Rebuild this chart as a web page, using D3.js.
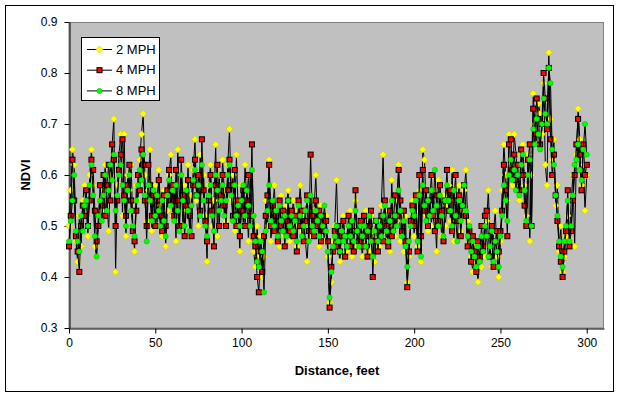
<!DOCTYPE html>
<html>
<head>
<meta charset="utf-8">
<script src="https://cdnjs.cloudflare.com/ajax/libs/d3/7.8.5/d3.min.js"></script>
<style>
  body { margin: 0; background: #fff; }
  text { font-family: "Liberation Sans", Arial, sans-serif; }
  .tick text { font-size: 12px; fill: #000; }
  .tick line, .domain { stroke: #000; }
</style>
</head>
<body>
<div id="chart"></div>
<script>
// one reading per foot, 0 - 300 ft
var ndvi2mph = [
  0.50, 0.57, 0.65, 0.62, 0.47, 0.43, 0.52, 0.46, 0.55, 0.58,
  0.53, 0.48, 0.60, 0.65, 0.58, 0.46, 0.44, 0.50, 0.55, 0.53,
  0.57, 0.62, 0.55, 0.49, 0.60, 0.66, 0.71, 0.41, 0.58, 0.64,
  0.68, 0.52, 0.68, 0.48, 0.60, 0.57, 0.62, 0.50, 0.45, 0.58,
  0.55, 0.63, 0.68, 0.72, 0.60, 0.51, 0.57, 0.65, 0.49, 0.55,
  0.58, 0.50, 0.61, 0.54, 0.48, 0.57, 0.46, 0.53, 0.60, 0.64,
  0.52, 0.57, 0.47, 0.65, 0.55, 0.60, 0.50, 0.58, 0.53, 0.62,
  0.48, 0.56, 0.61, 0.67, 0.55, 0.50, 0.64, 0.57, 0.60, 0.52,
  0.43, 0.58, 0.62, 0.50, 0.55, 0.66, 0.48, 0.60, 0.54, 0.63,
  0.57, 0.51, 0.62, 0.69, 0.55, 0.60, 0.49, 0.64, 0.53, 0.45,
  0.58, 0.50, 0.62, 0.55, 0.47, 0.60, 0.52, 0.45, 0.42, 0.50,
  0.44, 0.48, 0.40, 0.44, 0.55, 0.50, 0.63, 0.47, 0.53, 0.58,
  0.49, 0.53, 0.46, 0.56, 0.51, 0.48, 0.54, 0.57, 0.47, 0.52,
  0.55, 0.50, 0.46, 0.53, 0.58, 0.49, 0.52, 0.47, 0.43, 0.50,
  0.55, 0.48, 0.53, 0.60, 0.51, 0.46, 0.54, 0.50, 0.47, 0.52,
  0.44, 0.35, 0.39, 0.47, 0.50, 0.59, 0.46, 0.43, 0.49, 0.52,
  0.47, 0.45, 0.50, 0.53, 0.44, 0.49, 0.55, 0.46, 0.51, 0.48,
  0.44, 0.50, 0.53, 0.47, 0.45, 0.52, 0.49, 0.43, 0.48, 0.51,
  0.46, 0.54, 0.64, 0.50, 0.47, 0.53, 0.45, 0.59, 0.50, 0.48,
  0.55, 0.62, 0.47, 0.51, 0.45, 0.52, 0.39, 0.44, 0.50, 0.55,
  0.48, 0.53, 0.46, 0.57, 0.43, 0.65, 0.63, 0.52, 0.49, 0.55,
  0.50, 0.57, 0.53, 0.45, 0.59, 0.52, 0.48, 0.56, 0.50, 0.54,
  0.58, 0.51, 0.61, 0.47, 0.55, 0.52, 0.58, 0.49, 0.53, 0.57,
  0.61, 0.51, 0.47, 0.44, 0.41, 0.46, 0.43, 0.39, 0.45, 0.42,
  0.48, 0.44, 0.51, 0.57, 0.46, 0.42, 0.49, 0.53, 0.44, 0.40,
  0.47, 0.57, 0.66, 0.60, 0.55, 0.68, 0.62, 0.58, 0.68, 0.64,
  0.59, 0.55, 0.62, 0.66, 0.58, 0.52, 0.64, 0.47, 0.60, 0.76,
  0.70, 0.66, 0.74, 0.72, 0.68, 0.78, 0.62, 0.58, 0.84, 0.71,
  0.63, 0.67, 0.54, 0.58, 0.45, 0.50, 0.41, 0.44, 0.48, 0.52,
  0.47, 0.55, 0.60, 0.46, 0.64, 0.73, 0.67, 0.58, 0.62, 0.53,
  0.60
];
var ndvi4mph = [
  0.46, 0.52, 0.63, 0.55, 0.48, 0.45, 0.41, 0.50, 0.54, 0.52,
  0.57, 0.50, 0.55, 0.63, 0.61, 0.53, 0.47, 0.50, 0.58, 0.54,
  0.60, 0.52, 0.58, 0.62, 0.55, 0.66, 0.63, 0.50, 0.55, 0.61,
  0.64, 0.67, 0.56, 0.52, 0.58, 0.62, 0.55, 0.49, 0.47, 0.53,
  0.60, 0.57, 0.65, 0.62, 0.55, 0.50, 0.62, 0.58, 0.52, 0.56,
  0.50, 0.55, 0.59, 0.52, 0.49, 0.56, 0.50, 0.57, 0.61, 0.55,
  0.58, 0.52, 0.61, 0.55, 0.50, 0.63, 0.56, 0.48, 0.54, 0.59,
  0.52, 0.48, 0.58, 0.63, 0.56, 0.60, 0.53, 0.67, 0.57, 0.51,
  0.47, 0.55, 0.60, 0.53, 0.46, 0.58, 0.62, 0.50, 0.56, 0.60,
  0.54, 0.50, 0.57, 0.63, 0.58, 0.52, 0.61, 0.50, 0.55, 0.48,
  0.53, 0.57, 0.50, 0.55, 0.60, 0.52, 0.66, 0.48, 0.46, 0.40,
  0.37, 0.45, 0.41, 0.48, 0.52, 0.56, 0.62, 0.50, 0.54, 0.49,
  0.52, 0.47, 0.55, 0.50, 0.53, 0.46, 0.51, 0.55, 0.49, 0.53,
  0.48, 0.52, 0.45, 0.55, 0.50, 0.53, 0.47, 0.51, 0.56, 0.49,
  0.64, 0.52, 0.48, 0.55, 0.50, 0.53, 0.47, 0.52, 0.49, 0.51,
  0.47, 0.34, 0.42, 0.45, 0.49, 0.46, 0.50, 0.45, 0.48, 0.51,
  0.44, 0.48, 0.52, 0.46, 0.50, 0.45, 0.57, 0.49, 0.47, 0.51,
  0.46, 0.52, 0.48, 0.44, 0.50, 0.53, 0.40, 0.47, 0.51, 0.45,
  0.49, 0.52, 0.47, 0.55, 0.50, 0.46, 0.53, 0.48, 0.51, 0.56,
  0.52, 0.61, 0.55, 0.49, 0.53, 0.47, 0.38, 0.45, 0.51, 0.54,
  0.50, 0.56, 0.45, 0.60, 0.48, 0.61, 0.53, 0.57, 0.50, 0.55,
  0.60, 0.52, 0.49, 0.56, 0.51, 0.58, 0.53, 0.47, 0.55, 0.61,
  0.53, 0.57, 0.49, 0.55, 0.60, 0.51, 0.56, 0.48, 0.54, 0.58,
  0.52, 0.46, 0.49, 0.43, 0.48, 0.45, 0.41, 0.47, 0.44, 0.50,
  0.46, 0.52, 0.53, 0.48, 0.44, 0.50, 0.42, 0.47, 0.49, 0.45,
  0.49, 0.53, 0.62, 0.57, 0.48, 0.66, 0.67, 0.61, 0.64, 0.59,
  0.62, 0.57, 0.65, 0.60, 0.54, 0.50, 0.63, 0.66, 0.50, 0.73,
  0.68, 0.75, 0.71, 0.66, 0.70, 0.80, 0.75, 0.69, 0.81, 0.67,
  0.60, 0.64, 0.56, 0.51, 0.46, 0.43, 0.40, 0.45, 0.49, 0.57,
  0.46, 0.49, 0.55, 0.60, 0.66, 0.71, 0.64, 0.57, 0.66, 0.60,
  0.62
];
var ndvi8mph = [
  0.47, 0.51, 0.55, 0.60, 0.49, 0.47, 0.45, 0.52, 0.49, 0.54,
  0.55, 0.50, 0.58, 0.62, 0.56, 0.48, 0.44, 0.52, 0.55, 0.51,
  0.56, 0.60, 0.53, 0.57, 0.62, 0.59, 0.64, 0.53, 0.56, 0.60,
  0.62, 0.58, 0.55, 0.50, 0.57, 0.60, 0.53, 0.50, 0.48, 0.55,
  0.58, 0.61, 0.59, 0.64, 0.56, 0.47, 0.58, 0.55, 0.51, 0.57,
  0.52, 0.56, 0.53, 0.50, 0.55, 0.51, 0.48, 0.56, 0.59, 0.54,
  0.57, 0.51, 0.58, 0.53, 0.49, 0.60, 0.55, 0.50, 0.57, 0.53,
  0.49, 0.54, 0.59, 0.61, 0.56, 0.58, 0.52, 0.62, 0.55, 0.50,
  0.48, 0.56, 0.58, 0.52, 0.49, 0.60, 0.57, 0.53, 0.55, 0.58,
  0.52, 0.55, 0.60, 0.62, 0.56, 0.51, 0.58, 0.52, 0.54, 0.50,
  0.55, 0.58, 0.52, 0.57, 0.54, 0.50, 0.61, 0.52, 0.47, 0.43,
  0.42, 0.47, 0.45, 0.37, 0.49, 0.53, 0.58, 0.51, 0.55, 0.50,
  0.53, 0.48, 0.54, 0.51, 0.49, 0.52, 0.48, 0.55, 0.50, 0.52,
  0.49, 0.51, 0.47, 0.54, 0.52, 0.48, 0.50, 0.53, 0.55, 0.47,
  0.56, 0.50, 0.49, 0.53, 0.51, 0.48, 0.52, 0.50, 0.54, 0.49,
  0.45, 0.36, 0.41, 0.46, 0.48, 0.50, 0.47, 0.45, 0.49, 0.47,
  0.48, 0.46, 0.50, 0.48, 0.51, 0.47, 0.53, 0.49, 0.46, 0.50,
  0.48, 0.50, 0.46, 0.49, 0.52, 0.47, 0.44, 0.49, 0.51, 0.47,
  0.50, 0.48, 0.52, 0.54, 0.49, 0.47, 0.51, 0.55, 0.49, 0.52,
  0.50, 0.57, 0.53, 0.48, 0.51, 0.46, 0.42, 0.47, 0.50, 0.53,
  0.52, 0.55, 0.47, 0.56, 0.44, 0.58, 0.54, 0.51, 0.55, 0.52,
  0.57, 0.53, 0.61, 0.54, 0.50, 0.56, 0.52, 0.48, 0.55, 0.58,
  0.55, 0.53, 0.50, 0.57, 0.52, 0.47, 0.55, 0.51, 0.54, 0.58,
  0.53, 0.48, 0.50, 0.45, 0.47, 0.44, 0.42, 0.46, 0.43, 0.48,
  0.45, 0.50, 0.48, 0.44, 0.46, 0.49, 0.43, 0.47, 0.45, 0.42,
  0.48, 0.52, 0.58, 0.55, 0.51, 0.60, 0.63, 0.59, 0.61, 0.57,
  0.60, 0.56, 0.62, 0.64, 0.57, 0.51, 0.60, 0.63, 0.50, 0.69,
  0.66, 0.71, 0.68, 0.65, 0.70, 0.75, 0.72, 0.70, 0.81, 0.78,
  0.65, 0.62, 0.56, 0.52, 0.47, 0.44, 0.42, 0.47, 0.50, 0.55,
  0.47, 0.50, 0.56, 0.62, 0.63, 0.66, 0.61, 0.59, 0.65, 0.70,
  0.64
];
var distance = d3.range(0, ndvi2mph.length); // feet
var seriesNames = ["2 MPH", "4 MPH", "8 MPH"];
var xTicks = [0, 50, 100, 150, 200, 250, 300];
var yTicks = [0.3, 0.4, 0.5, 0.6, 0.7, 0.8, 0.9];

var width = 620;
var height = 398;

var svg = d3.select("#chart")
    .append("svg")
    .attr("width", width)
    .attr("height", height);

// outer chart border
svg.append("rect")
    .attr("x", 5.5).attr("y", 5.5)
    .attr("width", 608).attr("height", 386)
    .attr("fill", "#fff")
    .attr("stroke", "#000");

var xScale = d3.scaleLinear().domain([0, 310]).range([69, 604]);
var yScale = d3.scaleLinear().domain([0.3, 0.9]).range([328, 22]);

// plot area
svg.append("rect")
    .attr("x", 69).attr("y", 22.5)
    .attr("width", 534.5).attr("height", 305.5)
    .attr("fill", "#c0c0c0")
    .attr("stroke", "#808080");

var xAxis = d3.axisBottom(xScale).tickValues(xTicks).tickSize(5).tickSizeOuter(0).tickPadding(5);
var yAxis = d3.axisLeft(yScale).tickValues(yTicks).tickSize(5).tickSizeOuter(0).tickPadding(7)
    .tickFormat(d3.format(".1f"));

svg.append("g")
    .attr("class", "xAxis")
    .attr("transform", "translate(0,328.5)")
    .call(xAxis);
svg.append("g")
    .attr("class", "yAxis")
    .attr("transform", "translate(69.5,0)")
    .call(yAxis);

// axis titles
svg.append("text")
    .attr("x", 337).attr("y", 375)
    .attr("text-anchor", "middle")
    .attr("font-size", 13).attr("font-weight", "bold")
    .text("Distance, feet");
svg.append("text")
    .attr("transform", "translate(30,175)rotate(-90)")
    .attr("text-anchor", "middle")
    .attr("font-size", 13).attr("font-weight", "bold")
    .text("NDVI");

// marker painters
function drawDiamond(sel) {
  sel.append("path")
      .attr("d", "M0,-3.5L3.5,0L0,3.5L-3.5,0Z")
      .attr("fill", "#ffff00")
      .attr("stroke", "#c8c800")
      .attr("stroke-width", 0.6);
}
function drawSquare(sel) {
  sel.append("rect")
      .attr("x", -2.5).attr("y", -2.5)
      .attr("width", 5).attr("height", 5)
      .attr("fill", "#ff0000")
      .attr("stroke", "#000")
      .attr("stroke-width", 1);
}
function drawCircle(sel) {
  sel.append("circle")
      .attr("r", 2.6)
      .attr("fill", "#00ff00")
      .attr("stroke", "#00b000")
      .attr("stroke-width", 0.5);
}

var allSeries = [
  { name: seriesNames[0], values: ndvi2mph, marker: drawDiamond },
  { name: seriesNames[1], values: ndvi4mph, marker: drawSquare },
  { name: seriesNames[2], values: ndvi8mph, marker: drawCircle }
];

var line = d3.line()
    .x(function(d, i) { return xScale(distance[i]); })
    .y(function(d) { return yScale(d); });

var plot = svg.append("g")
    .attr("clip-path", null);

allSeries.forEach(function(s) {
  plot.append("path")
      .datum(s.values)
      .attr("d", line)
      .attr("fill", "none")
      .attr("stroke", "#000")
      .attr("stroke-width", 1);

  var pts = plot.append("g").selectAll("g")
      .data(s.values)
      .enter()
      .append("g")
      .attr("transform", function(d, i) {
        return "translate(" + xScale(distance[i]) + "," + yScale(d) + ")";
      });
  s.marker(pts);
});

// legend
var legend = svg.append("g");
legend.append("rect")
    .attr("x", 81.5).attr("y", 37.5)
    .attr("width", 78).attr("height", 63)
    .attr("fill", "#fff")
    .attr("stroke", "#000");

var rows = legend.selectAll("g.row")
    .data(allSeries)
    .enter()
    .append("g")
    .attr("class", "row")
    .attr("transform", function(d, i) {
      return "translate(0," + (49 + i * 20.7) + ")";
    });
rows.append("line")
    .attr("x1", 87).attr("x2", 112)
    .attr("y1", 0.5).attr("y2", 0.5)
    .attr("stroke", "#000");
rows.each(function(d) {
  var g = d3.select(this).append("g").attr("transform", "translate(99.5,0.5)");
  d.marker(g);
});
rows.append("text")
    .attr("x", 116).attr("y", 0)
    .attr("dy", "0.36em")
    .attr("font-size", 13)
    .text(function(d) { return d.name; });
</script>
</body>
</html>
